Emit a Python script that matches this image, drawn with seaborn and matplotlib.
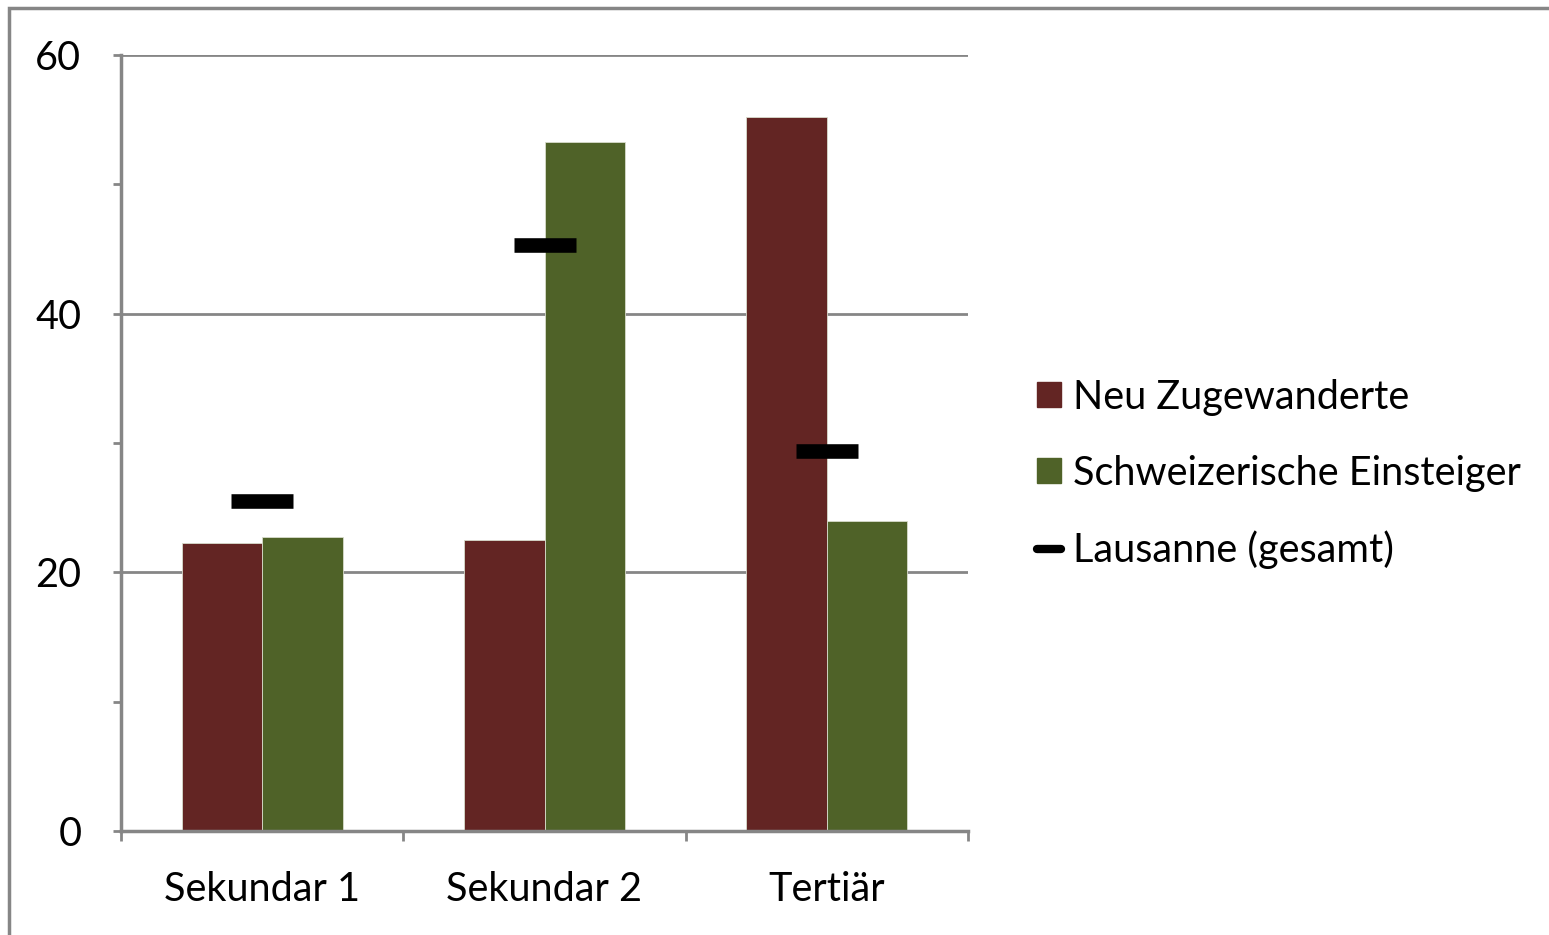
import matplotlib
matplotlib.use("Agg")
import matplotlib.pyplot as plt
import seaborn as sns
import pandas as pd
from matplotlib.patches import Patch, Rectangle
from matplotlib.lines import Line2D

categories = ["Sekundar 1", "Sekundar 2", "Tertiär"]
neu_zugewanderte = [22.3, 22.5, 55.2]
schweizer_einsteiger = [22.7, 53.3, 24.0]
lausanne_gesamt = [25.5, 45.3, 29.4]
series_names = ["Neu Zugewanderte", "Schweizerische Einsteiger", "Lausanne (gesamt)"]
y_ticks = [0, 20, 40, 60]

RED = "#632523"
GREEN = "#4F6228"
GRAY = "#868686"

sns.set_theme(style="white")
plt.rcParams["font.family"] = ["Lato", "DejaVu Sans"]
plt.rcParams["text.color"] = "black"
plt.rcParams["xtick.labelcolor"] = "black"
plt.rcParams["ytick.labelcolor"] = "black"
FS = 28.5

bars = pd.DataFrame({
    "cat": categories * 2,
    "val": neu_zugewanderte + schweizer_einsteiger,
    "series": [series_names[0]] * 3 + [series_names[1]] * 3,
})
marks = pd.DataFrame({"cat": categories, "val": lausanne_gesamt})

fig = plt.figure(figsize=(15.49, 9.35), dpi=100)
ax = fig.add_axes([121 / 1549, 1 - 831 / 935, (968 - 121) / 1549, (831 - 55) / 935])

sns.barplot(data=bars, x="cat", y="val", hue="series", order=categories,
            hue_order=series_names[:2], palette=[RED, GREEN], width=0.57,
            saturation=1, ax=ax, legend=False, zorder=3, linewidth=0.6,
            edgecolor="#d8dccc")
sns.pointplot(data=marks, x="cat", y="val", order=categories, color="black",
              linestyle="none", marker="_", markersize=45, markeredgewidth=10.5,
              errorbar=None, ax=ax, zorder=5)

ax.set_xlim(-0.5, 2.5)
ax.set_ylim(0, 60)
ax.set_xlabel("")
ax.set_ylabel("")

# y grid & ticks
ax.set_yticks(y_ticks)
ax.set_yticks([10, 30, 50], minor=True)
ax.yaxis.grid(True, which="major", color=GRAY, linewidth=2, zorder=0)
ax.set_axisbelow(True)
ax.tick_params(axis="y", which="major", length=6, width=2, color=GRAY,
               labelsize=FS, pad=22.5, left=True, labelcolor="black")
ax.tick_params(axis="y", which="minor", length=6, width=2, color=GRAY, left=True)

# x ticks at category boundaries, labels at centers
ax.set_xticks([-0.5, 0.5, 1.5, 2.5])
ax.set_xticklabels([])
ax.set_xticks([0, 1, 2], minor=True)
ax.set_xticklabels(categories, minor=True)
ax.tick_params(axis="x", which="major", length=7, width=2, color=GRAY, bottom=True)
ax.tick_params(axis="x", which="minor", length=0, labelsize=FS, pad=29,
               labelcolor="black")

for s in ["top", "right"]:
    ax.spines[s].set_visible(False)
for s in ["left", "bottom"]:
    ax.spines[s].set_color(GRAY)
    ax.spines[s].set_linewidth(2.5)
    ax.spines[s].set_zorder(4)

handles = [Patch(facecolor=RED, edgecolor=RED),
           Patch(facecolor=GREEN, edgecolor=GREEN),
           Line2D([0], [0], color="black", linewidth=6)]
leg = fig.legend(handles, series_names, loc="center left",
                 bbox_to_anchor=(1037 / 1549, 1 - 474 / 935), frameon=False,
                 fontsize=FS, handlelength=0.6, handleheight=0.6,
                 handletextpad=0.3, labelspacing=0.98, borderpad=0,
                 borderaxespad=0)
for t in leg.get_texts():
    t.set_color("black")

fig.patches.append(Rectangle((9 / 1549, -0.1), 1.2, 1 - 8 / 935 + 0.1,
                             transform=fig.transFigure, fill=False,
                             edgecolor=GRAY, linewidth=2.5))

fig.savefig("out.png", dpi=100, facecolor="white")
